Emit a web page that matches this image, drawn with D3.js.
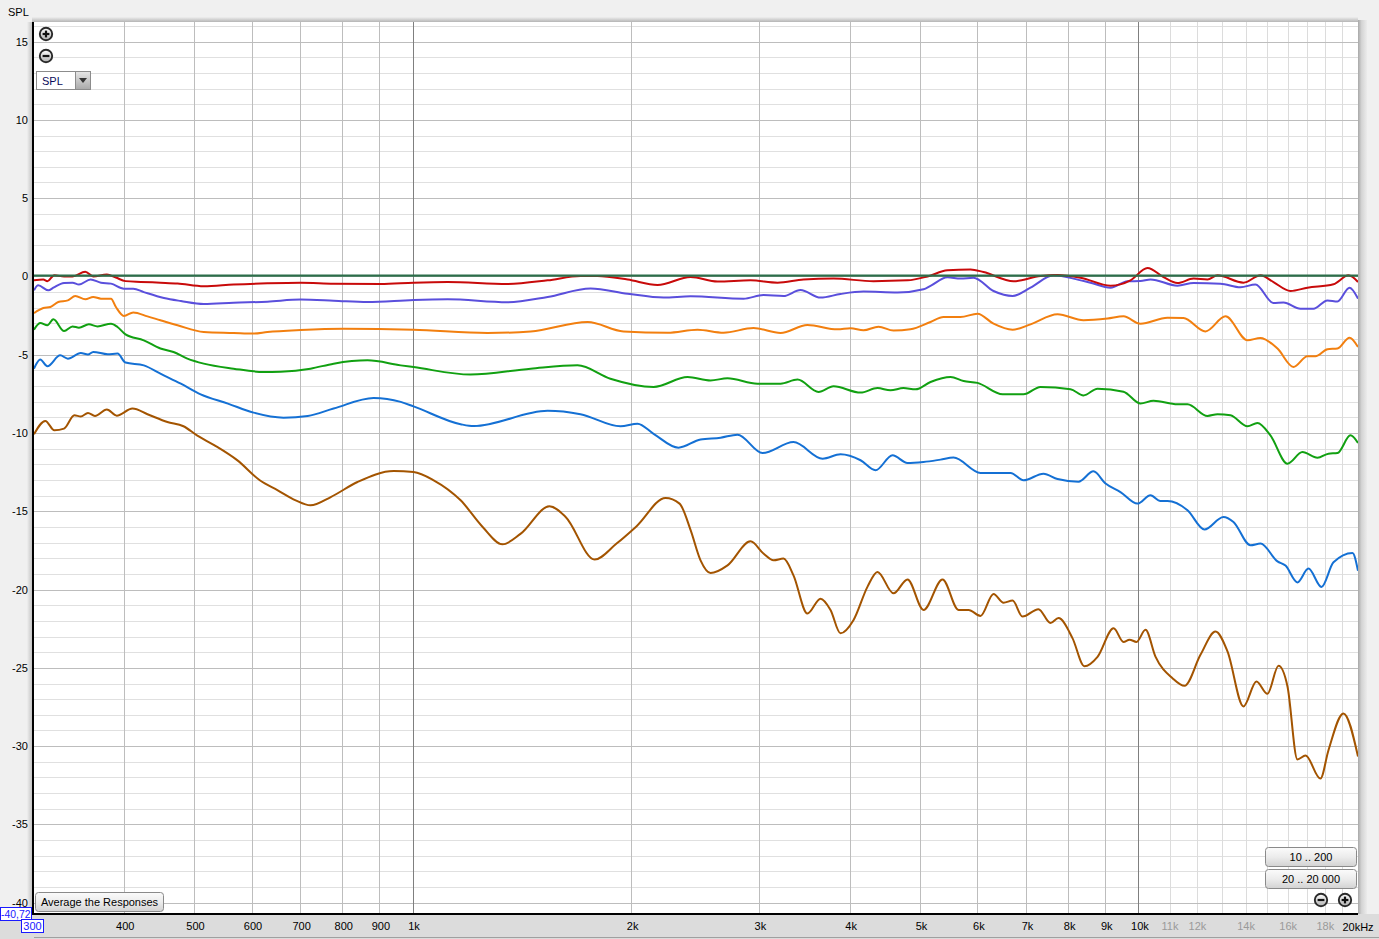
<!DOCTYPE html>
<html><head><meta charset="utf-8">
<script src="https://cdn.jsdelivr.net/npm/d3@7"></script>
<style>
html,body{margin:0;padding:0;background:#f0f0f0;overflow:hidden;}
svg{display:block;font-family:"Liberation Sans",Arial,sans-serif;}
</style></head><body>
<svg id="chart" width="1379" height="939"></svg>
<script>
// ---------- DATA (frequency Hz, level dB) ----------
const seriesRed = [[300,-0.25],[309,-0.2],[313,-0.3],[320,0.07],[330,0.0],[339,0.0],[353,0.3],[362,0.0],[378,0.13],[389,-0.07],[401,-0.3],[421,-0.35],[448,-0.4],[473,-0.45],[514,-0.63],[565,-0.52],[629,-0.44],[699,-0.4],[776,-0.46],[901,-0.48],[1000,-0.4],[1114,-0.36],[1347,-0.48],[1530,-0.25],[1698,0.03],[1792,0.03],[1972,-0.2],[2168,-0.55],[2408,-0.04],[2622,-0.33],[2912,-0.25],[3172,-0.4],[3445,-0.2],[3789,-0.14],[4301,-0.3],[4791,-0.25],[5105,0.0],[5438,0.39],[5851,0.45],[6097,0.28],[6708,-0.31],[7304,0.03],[7711,0.09],[8293,-0.08],[9124,-0.59],[9719,-0.25],[10257,0.54],[10791,-0.04],[11281,-0.42],[11870,-0.14],[12408,-0.2],[12806,0.07],[13908,-0.4],[14678,0.07],[15296,-0.36],[16144,-0.93],[17037,-0.72],[18503,-0.5],[19408,0.07],[20000,-0.36]];

const seriesPurple = [[300,-0.89],[304,-0.57],[314,-0.89],[319,-0.72],[330,-0.42],[339,-0.4],[346,-0.52],[359,-0.19],[371,-0.4],[383,-0.46],[399,-0.78],[411,-0.78],[425,-1.0],[453,-1.38],[478,-1.57],[514,-1.76],[565,-1.68],[629,-1.61],[699,-1.48],[776,-1.55],[864,-1.64],[1000,-1.5],[1114,-1.46],[1347,-1.65],[1530,-1.31],[1753,-0.77],[1972,-1.1],[2210,-1.35],[2408,-1.27],[2848,-1.42],[3034,-1.19],[3233,-1.25],[3412,-0.87],[3636,-1.35],[3874,-1.12],[4167,-0.97],[4642,-1.03],[5041,-0.82],[5154,-0.6],[5438,-0.06],[5668,-0.14],[5906,-0.08],[6294,-0.93],[6687,-1.25],[7078,-0.72],[7613,0.07],[8111,-0.14],[8561,-0.4],[9124,-0.72],[9627,-0.31],[10032,-0.29],[10356,-0.19],[11281,-0.59],[11870,-0.42],[12930,-0.46],[13777,-0.69],[14446,-0.52],[15296,-1.7],[15788,-1.67],[16664,-2.06],[17365,-2.06],[18155,-1.53],[18739,-1.6],[19470,-0.72],[20000,-1.42]];

const seriesOrange = [[300,-2.34],[309,-2.02],[316,-1.95],[324,-1.63],[334,-1.53],[342,-1.25],[353,-1.46],[362,-1.31],[371,-1.42],[383,-1.42],[389,-1.95],[399,-2.52],[411,-2.3],[430,-2.55],[448,-2.8],[473,-3.12],[514,-3.55],[565,-3.61],[602,-3.65],[629,-3.55],[699,-3.42],[801,-3.34],[1000,-3.4],[1264,-3.61],[1450,-3.52],[1737,-2.91],[1946,-3.51],[2239,-3.59],[2461,-3.4],[2673,-3.59],[2940,-3.3],[3203,-3.61],[3488,-3.1],[3837,-3.38],[3999,-3.31],[4167,-3.44],[4370,-3.21],[4583,-3.46],[4836,-3.38],[5154,-2.91],[5370,-2.59],[5668,-2.59],[5983,-2.38],[6294,-3.02],[6687,-3.4],[7078,-3.06],[7711,-2.42],[8373,-2.8],[9037,-2.69],[9506,-2.55],[10032,-3.02],[10929,-2.64],[11497,-2.66],[12328,-3.51],[13138,-2.55],[14085,-4.08],[14678,-3.93],[15492,-4.61],[16297,-5.78],[17037,-5.1],[17474,-5.1],[18155,-4.65],[18739,-4.6],[19470,-3.91],[20000,-4.51]];

const seriesGreen = [[300,-3.4],[306,-2.98],[313,-3.12],[319,-2.74],[330,-3.49],[339,-3.19],[346,-3.27],[357,-3.06],[367,-3.19],[383,-3.02],[391,-3.23],[401,-3.7],[425,-4.08],[448,-4.6],[467,-4.83],[488,-5.25],[514,-5.57],[565,-5.89],[621,-6.1],[656,-6.08],[721,-5.89],[776,-5.57],[864,-5.36],[960,-5.68],[1000,-5.79],[1198,-6.27],[1450,-5.89],[1682,-5.68],[1867,-6.53],[2141,-7.06],[2385,-6.42],[2565,-6.64],[2707,-6.51],[2977,-6.85],[3203,-6.85],[3380,-6.59],[3613,-7.38],[3789,-7.02],[4128,-7.42],[4356,-7.13],[4539,-7.27],[4730,-7.13],[4914,-7.21],[5154,-6.74],[5491,-6.42],[5724,-6.68],[5983,-6.8],[6479,-7.53],[6921,-7.53],[7304,-7.06],[8035,-7.2],[8373,-7.6],[8754,-7.17],[9506,-7.36],[10032,-8.12],[10455,-7.94],[11281,-8.17],[11645,-8.17],[12408,-8.91],[12806,-8.8],[13346,-8.87],[14085,-9.57],[14537,-9.36],[15148,-10.15],[15992,-11.96],[16768,-11.22],[17586,-11.58],[18211,-11.32],[18739,-11.28],[19530,-10.15],[20000,-10.64]];

const seriesBlue = [[300,-5.89],[306,-5.31],[313,-5.74],[326,-5.04],[334,-5.25],[348,-4.89],[356,-4.99],[362,-4.82],[379,-4.97],[391,-4.93],[401,-5.5],[425,-5.68],[448,-6.21],[478,-6.85],[509,-7.53],[555,-8.12],[602,-8.7],[662,-9.02],[715,-8.91],[776,-8.44],[881,-7.76],[960,-8.01],[1000,-8.3],[1161,-9.44],[1210,-9.56],[1530,-8.58],[1698,-8.8],[1928,-9.57],[2035,-9.41],[2141,-10.05],[2317,-10.94],[2485,-10.41],[2648,-10.3],[2794,-10.11],[3025,-11.28],[3337,-10.58],[3660,-11.64],[3874,-11.36],[4128,-11.74],[4329,-12.38],[4569,-11.42],[4791,-11.92],[5041,-11.85],[5320,-11.7],[5544,-11.57],[6040,-12.55],[6645,-12.55],[6921,-13.02],[7375,-12.6],[7711,-12.94],[8241,-13.11],[8642,-12.45],[8980,-13.23],[9415,-13.77],[9936,-14.51],[10356,-13.98],[10688,-14.34],[10929,-14.34],[11645,-14.93],[12289,-16.16],[13053,-15.36],[13474,-15.68],[14218,-17.17],[14678,-17.06],[15492,-18.2],[15890,-18.47],[16503,-19.54],[17092,-18.66],[17811,-19.83],[18503,-18.26],[19654,-17.66],[20000,-18.8]];

const seriesBrown = [[300,-10.08],[311,-9.23],[320,-9.83],[330,-9.72],[341,-8.87],[348,-8.94],[356,-8.72],[364,-8.91],[378,-8.5],[390,-8.89],[410,-8.44],[430,-8.8],[458,-9.3],[482,-9.57],[503,-10.15],[532,-10.79],[572,-11.75],[614,-13.02],[650,-13.66],[688,-14.3],[721,-14.62],[769,-14.09],[837,-13.13],[939,-12.43],[1000,-12.49],[1066,-13.02],[1161,-14.3],[1245,-16.0],[1326,-17.11],[1405,-16.43],[1539,-14.68],[1620,-15.36],[1776,-18.08],[1904,-17.06],[2029,-15.95],[2224,-14.15],[2325,-14.51],[2408,-16.2],[2485,-18.13],[2565,-18.94],[2707,-18.45],[2912,-16.92],[3034,-17.7],[3133,-18.13],[3233,-18.02],[3337,-19.09],[3488,-21.53],[3636,-20.58],[3753,-21.3],[3874,-22.79],[4038,-21.94],[4221,-19.81],[4356,-18.87],[4583,-20.24],[4791,-19.35],[5041,-21.3],[5354,-19.35],[5633,-21.3],[5815,-21.3],[6040,-21.68],[6294,-20.28],[6498,-20.84],[6687,-20.7],[6899,-21.72],[7258,-21.25],[7541,-22.14],[7734,-21.82],[8085,-23.1],[8399,-24.9],[8754,-24.3],[9212,-22.47],[9506,-23.34],[9688,-23.2],[9906,-23.34],[10193,-22.57],[10520,-24.28],[11103,-25.66],[11535,-26.15],[12134,-24.17],[12727,-22.68],[13220,-23.95],[13908,-27.46],[14493,-25.87],[15006,-26.66],[15542,-24.87],[15992,-26.19],[16503,-30.85],[16931,-30.6],[17755,-32.07],[18211,-30.26],[19099,-27.91],[20000,-30.66]];

const seriesTarget = [[300,0.05],[20000,0.05]];

const yTickValues = [15,10,5,0,-5,-10,-15,-20,-25,-30,-35,-40];
const yTickLabels = ["15","10","5","0","-5","-10","-15","-20","-25","-30","-35","-40"];
const xTickValues = [400,500,600,700,800,900,1000,2000,3000,4000,5000,6000,7000,8000,9000,10000];
const xTickLabels = ["400","500","600","700","800","900","1k","2k","3k","4k","5k","6k","7k","8k","9k","10k"];
const xGrayTickValues = [11000,12000,14000,16000,18000];
const xGrayTickLabels = ["11k","12k","14k","16k","18k"];
const xMinorGrid = [11000,12000,13000,14000,15000,16000,17000,18000,19000];

// ---------- LAYOUT ----------
const L=34, R=1358, T=22, B=914;
const svg = d3.select("#chart");
const x = d3.scaleLog().domain([300,20000]).range([L,R]);
const y = d3.scaleLinear().domain([-40.72,16.25]).range([B,T]);

const defs = svg.append("defs");
function grad(id, stops, vertical=true){
  const g = defs.append("linearGradient").attr("id",id)
    .attr("x1",0).attr("y1",0).attr("x2",vertical?0:1).attr("y2",vertical?1:0);
  stops.forEach(s=>g.append("stop").attr("offset",s[0]).attr("stop-color",s[1]));
}
grad("btn",[[0,"#fbfbfb"],[0.5,"#ececec"],[1,"#d2d2d2"]]);
grad("arrowbtn",[[0,"#e6e6e6"],[1,"#a9a9a9"]]);
grad("shadowR",[[0,"#a8a8a8"],[0.4,"#d4d4d4"],[1,"#ececec"]],false);
grad("shadowT",[[0,"#efefef"],[1,"#b5b5b5"]]);
grad("shadowL",[[0,"#efefef"],[1,"#c4c4c4"]],false);
grad("icon",[[0,"#ffffff"],[1,"#b0b0b0"]]);
defs.append("clipPath").attr("id","clip").append("rect")
  .attr("x",L).attr("y",T).attr("width",R-L).attr("height",B-T);

// backgrounds
svg.append("rect").attr("width",1379).attr("height",939).attr("fill","#f0f0f0");
svg.append("rect").attr("x",0).attr("y",B).attr("width",1379).attr("height",939-B).attr("fill","#dcdcdc");
svg.append("rect").attr("x",R).attr("y",T-2).attr("width",9).attr("height",B-T+2).attr("fill","url(#shadowR)");
svg.append("rect").attr("x",L-2).attr("y",T-5).attr("width",R-L+2).attr("height",5).attr("fill","url(#shadowT)");
svg.append("rect").attr("x",L-7).attr("y",T).attr("width",5).attr("height",B-T).attr("fill","url(#shadowL)");
svg.append("rect").attr("x",L).attr("y",T).attr("width",R-L).attr("height",B-T).attr("fill","#ffffff");

// grid
const grid = svg.append("g");
grid.selectAll("line.hmin").data(d3.range(-40,17,1).filter(v=>v%5!==0)).join("line")
  .attr("x1",L).attr("x2",R).attr("y1",d=>Math.round(y(d))+0.5).attr("y2",d=>Math.round(y(d))+0.5)
  .attr("stroke","#e0e0e0").attr("stroke-width",1);
grid.selectAll("line.vmin").data(xMinorGrid).join("line")
  .attr("y1",T).attr("y2",B).attr("x1",d=>Math.round(x(d))+0.5).attr("x2",d=>Math.round(x(d))+0.5)
  .attr("stroke","#dcdcdc").attr("stroke-width",1);
grid.selectAll("line.hmaj").data(yTickValues).join("line")
  .attr("x1",L).attr("x2",R).attr("y1",d=>Math.round(y(d))+0.5).attr("y2",d=>Math.round(y(d))+0.5)
  .attr("stroke","#bdbdbd").attr("stroke-width",1);
grid.selectAll("line.vmaj").data(xTickValues.filter(v=>v!==1000&&v!==10000)).join("line")
  .attr("y1",T).attr("y2",B).attr("x1",d=>Math.round(x(d))-0.5).attr("x2",d=>Math.round(x(d))-0.5)
  .attr("stroke","#bdbdbd").attr("stroke-width",1);
grid.selectAll("line.vdec").data([1000,10000]).join("line")
  .attr("y1",T).attr("y2",B).attr("x1",d=>Math.round(x(d))-0.5).attr("x2",d=>Math.round(x(d))-0.5)
  .attr("stroke","#7f7f7f").attr("stroke-width",1);

// series
const line = d3.line().x(d=>x(d[0])).y(d=>y(d[1])).curve(d3.curveMonotoneX);
const plotG = svg.append("g").attr("clip-path","url(#clip)");
const series = [
  [seriesBrown,"#a35400"],
  [seriesBlue,"#1470d4"],
  [seriesGreen,"#11a011"],
  [seriesOrange,"#f27f0f"],
  [seriesPurple,"#5a4fdc"],
  [seriesRed,"#c80a0a"],
  [seriesTarget,"#2c6e4a"]
];
series.forEach(([data,color],i)=>{
  plotG.append("path").datum(data).attr("d",line).attr("fill","none")
    .attr("stroke",color).attr("stroke-width", i===6?2.4:2).attr("stroke-linejoin","round");
});

// axis frame lines
svg.append("line").attr("x1",L-1).attr("x2",L-1).attr("y1",T).attr("y2",B+1).attr("stroke","#000").attr("stroke-width",2);
svg.append("line").attr("x1",L-2).attr("x2",R).attr("y1",B).attr("y2",B).attr("stroke","#000").attr("stroke-width",2);
svg.append("line").attr("x1",L).attr("x2",1379).attr("y1",937.5).attr("y2",937.5).attr("stroke","#a0a0a0").attr("stroke-width",1);

// y axis
const yAxis = d3.axisLeft(y).tickValues(yTickValues).tickFormat((d,i)=>yTickLabels[i]).tickSize(0).tickPadding(0);
const yg = svg.append("g").attr("transform",`translate(${L-6},0)`).call(yAxis);
yg.select(".domain").remove();
yg.selectAll("text").attr("font-size",11).attr("fill","#000").attr("font-family","Liberation Sans, Arial, sans-serif");

// x axis
const xAxis = d3.axisBottom(x).tickValues(xTickValues).tickFormat((d,i)=>xTickLabels[i]).tickSize(0).tickPadding(0);
const xg = svg.append("g").attr("transform",`translate(0,${B+8})`).call(xAxis);
xg.select(".domain").remove();
xg.selectAll("text").attr("font-size",11).attr("fill","#000").attr("font-family","Liberation Sans, Arial, sans-serif");
const xAxis2 = d3.axisBottom(x).tickValues(xGrayTickValues).tickFormat((d,i)=>xGrayTickLabels[i]).tickSize(0).tickPadding(0);
const xg2 = svg.append("g").attr("transform",`translate(0,${B+8})`).call(xAxis2);
xg2.select(".domain").remove();
xg2.selectAll("text").attr("font-size",11).attr("fill","#9a9a9a").attr("font-family","Liberation Sans, Arial, sans-serif");
svg.append("text").attr("x",x(20000)).attr("y",931).attr("text-anchor","middle").attr("font-size",11).text("20kHz");

// title
svg.append("text").attr("x",8).attr("y",16).attr("font-size",11).attr("fill","#000").text("SPL");

// zoom icons
function zoomIcon(cx,cy,plus){
  const g=svg.append("g");
  g.append("circle").attr("cx",cx).attr("cy",cy).attr("r",6.2).attr("fill","url(#icon)").attr("stroke","#2a2a2a").attr("stroke-width",1.9);
  g.append("line").attr("x1",cx-3.4).attr("x2",cx+3.4).attr("y1",cy).attr("y2",cy).attr("stroke","#111").attr("stroke-width",2.2);
  if(plus) g.append("line").attr("x1",cx).attr("x2",cx).attr("y1",cy-3.4).attr("y2",cy+3.4).attr("stroke","#111").attr("stroke-width",2.2);
}
zoomIcon(46,34,true);
zoomIcon(46,56,false);
zoomIcon(1321,900,false);
zoomIcon(1345,900,true);

// SPL dropdown
svg.append("rect").attr("x",36.5).attr("y",71.5).attr("width",39).attr("height",18).attr("fill","#fff").attr("stroke","#8c8c8c");
svg.append("rect").attr("x",75.5).attr("y",71.5).attr("width",15).attr("height",18).attr("fill","url(#arrowbtn)").attr("stroke","#8c8c8c");
svg.append("path").attr("d","M79,78 L87,78 L83,83 Z").attr("fill","#333");
svg.append("text").attr("x",42).attr("y",85).attr("font-size",11).attr("fill","#0a0a5a").text("SPL");

// buttons
function button(x0,y0,w,h,label){
  svg.append("rect").attr("x",x0+0.5).attr("y",y0+0.5).attr("width",w).attr("height",h).attr("rx",3)
    .attr("fill","url(#btn)").attr("stroke","#8a8a8a");
  svg.append("text").attr("x",x0+w/2+0.5).attr("y",y0+h/2+4.5).attr("text-anchor","middle")
    .attr("font-size",11).attr("fill","#000").text(label);
}
button(35,892,128,19,"Average the Responses");
button(1265,847,91,19,"10 .. 200");
button(1265,869,91,19,"20 .. 20 000");

// cursor readouts
svg.append("rect").attr("x",0.5).attr("y",907.5).attr("width",31).attr("height",13).attr("fill","#fff").attr("stroke","#1a1aff");
svg.append("text").attr("x",1).attr("y",918).attr("font-size",10.5).attr("textLength",29.5).attr("lengthAdjust","spacingAndGlyphs").attr("fill","#1a1aff").text("-40,72");
svg.append("rect").attr("x",21.5).attr("y",919.5).attr("width",22).attr("height",13).attr("fill","#fff").attr("stroke","#1a1aff");
svg.append("text").attr("x",32.5).attr("y",930).attr("text-anchor","middle").attr("font-size",11).attr("fill","#1a1aff").text("300");
</script>
</body></html>
